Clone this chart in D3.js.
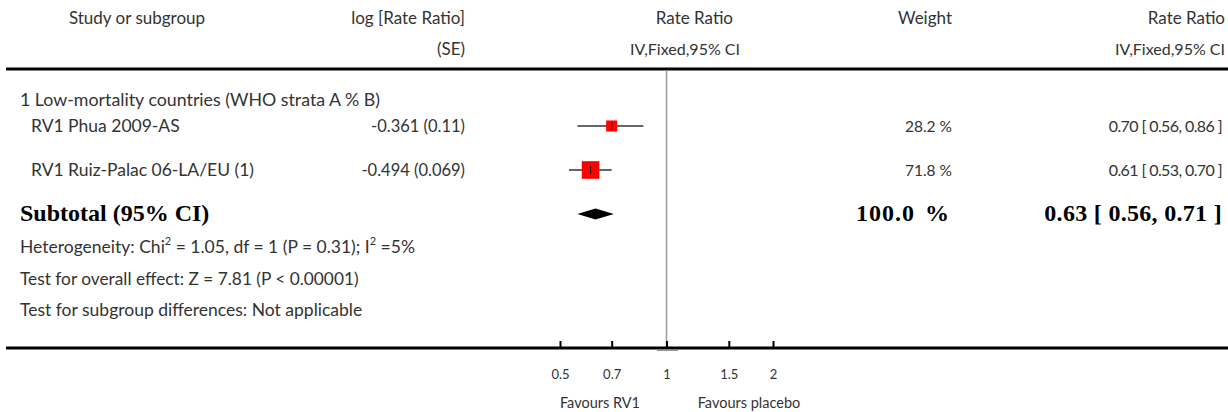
<!DOCTYPE html>
<html><head><meta charset="utf-8">
<script src="https://cdn.jsdelivr.net/npm/d3@7"></script>
<style>
body{margin:0;background:#fff;}
text{font-family:"Lato","Open Sans",sans-serif;fill:#333;}
.b{font-family:"Liberation Serif","DejaVu Serif",serif;font-weight:bold;fill:#000;}
</style></head><body>
<svg id="c" width="1228" height="412"></svg>
<script>
const studies = ["RV1 Phua 2009-AS", "RV1 Ruiz-Palac 06-LA/EU (1)"];
const logRR = ["-0.361", "-0.494"];
const seVals = ["0.11", "0.069"];
const rr = [0.70, 0.61];
const ciLo = [0.56, 0.53];
const ciHi = [0.86, 0.70];
const weights = [28.2, 71.8];
const subtotal = {rr: 0.63, lo: 0.56, hi: 0.71, weight: 100.0};
const ticks = [0.5, 0.7, 1, 1.5, 2];
const tickLabels = ["0.5", "0.7", "1", "1.5", "2"];

const svg = d3.select("#c");
const x = d3.scaleLog().domain([0.5, 2]).range([560, 773]);
const fs = 17.8;
function t(xp, yp, s, anchor, cls, size){
  return svg.append("text").attr("x", xp).attr("y", yp).attr("text-anchor", anchor||"start")
    .attr("dominant-baseline","middle").attr("class", cls||null).style("font-size",(size||fs)+"px").text(s);
}
// headers
t(137, 20, "Study or subgroup", "middle", null, 17);
t(465, 20, "log [Rate Ratio]", "end", null, 17);
t(465, 51, "(SE)", "end", null, 17);
t(733, 20, "Rate Ratio", "end", null, 17);
t(740, 51, "IV,Fixed,95% CI", "end", null, 16);
t(952, 20, "Weight", "end", null, 17);
t(1225, 20, "Rate Ratio", "end", null, 17);
t(1225, 51, "IV,Fixed,95% CI", "end", null, 16);
svg.append("line").attr("x1",6).attr("x2",1228).attr("y1",69).attr("y2",69).attr("stroke","#000").attr("stroke-width",3);

// null line
svg.append("line").attr("x1",x(1)).attr("x2",x(1)).attr("y1",70).attr("y2",347).attr("stroke","#999").attr("stroke-width",1.5);

t(20, 101, "1 Low-mortality countries (WHO strata A % B)");
const rowsY = [126, 170];
const fmt = d3.format(".2f");
const sizeScale = d3.scaleSqrt().domain([0, 100]).range([0, 20.8]);
studies.forEach((s, i) => {
  const y = rowsY[i];
  t(31, y+2, s, "start", null, 17.5);
  t(465, y+2, logRR[i] + " (" + seVals[i] + ")", "end", null, 16.5);
  t(952, y+2, weights[i].toFixed(1) + " %", "end", null, 15.5);
  t(1222, y+2, fmt(rr[i]) + " [ " + fmt(ciLo[i]) + ", " + fmt(ciHi[i]) + " ]", "end", null, 16)
    .style("letter-spacing","-0.6px");
  svg.append("line").attr("x1", x(ciLo[i])).attr("x2", x(ciHi[i])).attr("y1", y).attr("y2", y)
    .attr("stroke","#666").attr("stroke-width",2);
  const sz = sizeScale(weights[i]);
  svg.append("rect").attr("x", x(rr[i]) - sz/2).attr("y", y - sz/2).attr("width", sz).attr("height", sz).attr("fill","#ff0000");
  svg.append("line").attr("x1", x(rr[i])).attr("x2", x(rr[i])).attr("y1", y-3.5).attr("y2", y+3.5).attr("stroke","#000").attr("stroke-width",1);
});

// subtotal
const sy = 214;
t(20, sy+1, "Subtotal (95% CI)", "start", "b", 24);
t(950, sy+1, subtotal.weight.toFixed(1) + " %", "end", "b", 24).style("word-spacing","3px").style("letter-spacing","1px");
t(1222, sy+1, fmt(subtotal.rr) + " [ " + fmt(subtotal.lo) + ", " + fmt(subtotal.hi) + " ]", "end", "b", 24).style("letter-spacing","0.3px");
svg.append("path").attr("d", d3.line()([[x(subtotal.lo), sy],[x(subtotal.rr), sy-5.5],[x(subtotal.hi), sy],[x(subtotal.rr), sy+5.5]]) + "Z").attr("fill","#000");

const het = svg.append("text").attr("x",20).attr("y",249).attr("dominant-baseline","middle").style("font-size","17.5px");
het.append("tspan").text("Heterogeneity: Chi");
het.append("tspan").attr("baseline-shift","super").style("font-size","11px").text("2");
het.append("tspan").text(" = 1.05, df = 1 (P = 0.31); I");
het.append("tspan").attr("baseline-shift","super").style("font-size","11px").text("2");
het.append("tspan").text(" =5%");
t(20, 281, "Test for overall effect: Z = 7.81 (P < 0.00001)", "start", null, 17.3);
t(20, 312, "Test for subgroup differences: Not applicable", "start", null, 17.5);

// axis
svg.append("line").attr("x1",6).attr("x2",1228).attr("y1",348).attr("y2",348).attr("stroke","#000").attr("stroke-width",3);
svg.append("line").attr("x1",657).attr("x2",678).attr("y1",350.5).attr("y2",350.5).attr("stroke","#999").attr("stroke-width",1);
const axis = d3.axisBottom(x).tickValues(ticks).tickFormat((d,i)=>tickLabels[i]).tickSizeInner(-7).tickSizeOuter(0).tickPadding(22);
const g = svg.append("g").attr("transform","translate(0,348)").call(axis);
g.select(".domain").remove();
g.selectAll(".tick line").attr("stroke","#000").attr("stroke-width",2);
g.selectAll(".tick text").attr("fill","#333").style("font-family","Lato, sans-serif").style("font-size","13px");

t(600, 404, "Favours RV1", "middle", null, 14.5);
t(749, 404, "Favours placebo", "middle", null, 14.5);
</script></body></html>
